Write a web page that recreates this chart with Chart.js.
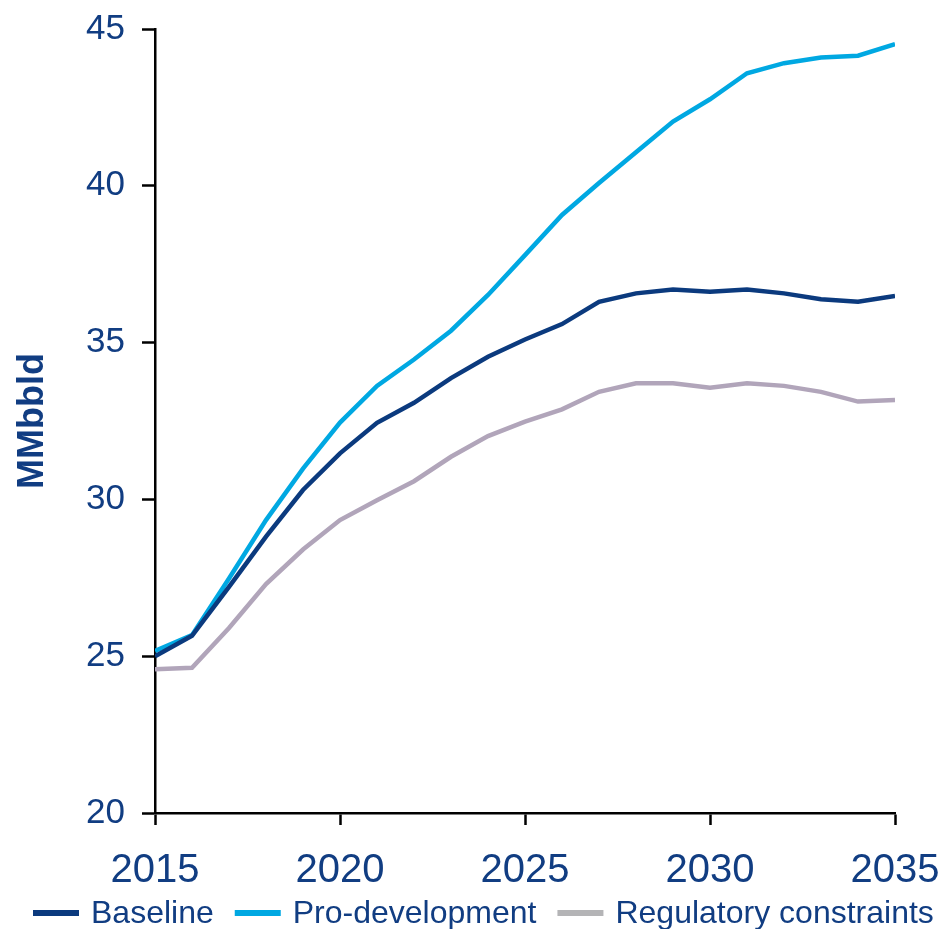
<!DOCTYPE html>
<html>
<head>
<meta charset="utf-8">
<script src="https://cdn.jsdelivr.net/npm/chart.js@4/dist/chart.umd.min.js"></script>
<style>
    html, body { margin: 0; padding: 0; background: #fff; }
    #wrap { width: 941px; height: 929px; }
</style>
</head>
<body>
<div id="wrap"><canvas id="supply-chart"></canvas></div>
<script>
const years = [2015, 2016, 2017, 2018, 2019, 2020, 2021, 2022, 2023, 2024, 2025,
               2026, 2027, 2028, 2029, 2030, 2031, 2032, 2033, 2034, 2035];

const baseline = [25.0, 25.65, 27.21, 28.81, 30.3, 31.47, 32.44, 33.08, 33.87, 34.55, 35.1,
                  35.59, 36.3, 36.57, 36.69, 36.62, 36.69, 36.57, 36.38, 36.3, 36.49];
const proDevelopment = [25.17, 25.67, 27.48, 29.34, 30.98, 32.45, 33.62, 34.46, 35.38, 36.52, 37.79,
                        39.07, 40.09, 41.07, 42.05, 42.76, 43.59, 43.91, 44.09, 44.15, 44.52];
const regulatory = [24.58, 24.63, 25.9, 27.3, 28.4, 29.34, 29.97, 30.58, 31.36, 32.02, 32.48,
                    32.87, 33.43, 33.7, 33.7, 33.56, 33.7, 33.62, 33.43, 33.12, 33.17];

const yTicks = [20, 25, 30, 35, 40, 45];
const xTicks = [2015, 2020, 2025, 2030, 2035];

const NAVY_TEXT = '#113d82';
const FONT = "'Liberation Sans', Arial, sans-serif";

function toPoints(values) {
    return years.map((yr, i) => ({ x: yr, y: values[i] }));
}

// legend drawn by hand: short thick bars under the x labels
const bottomLegend = {
    id: 'bottomLegend',
    afterDraw(chart) {
        const ctx = chart.ctx;
        ctx.save();
        ctx.font = '32px ' + FONT;
        ctx.textBaseline = 'middle';
        let x = 33;
        const y = 913;
        chart.data.datasets.forEach(ds => {
            ctx.fillStyle = ds.legendColor || ds.borderColor;
            ctx.fillRect(x, y - 3, 46, 6);
            x += 46 + 12;
            ctx.fillStyle = NAVY_TEXT;
            ctx.fillText(ds.label, x, y + 1);
            x += ctx.measureText(ds.label).width + 21;
        });
        ctx.restore();
    }
};

const data = {
    datasets: [
        {
            label: 'Baseline',
            data: toPoints(baseline),
            borderColor: '#0b3a7e',
            borderWidth: 4.5,
            pointRadius: 0,
            tension: 0
        },
        {
            label: 'Pro-development',
            data: toPoints(proDevelopment),
            borderColor: '#00a8e2',
            borderWidth: 4.5,
            pointRadius: 0,
            tension: 0
        },
        {
            label: 'Regulatory constraints',
            data: toPoints(regulatory),
            borderColor: '#b1a5ba',
            legendColor: '#b4b4b6',
            borderWidth: 4.5,
            pointRadius: 0,
            tension: 0
        }
    ]
};

const config = {
    type: 'line',
    data: data,
    options: {
        responsive: true,
        maintainAspectRatio: false,
        animation: false,
        layout: { padding: { top: 29, right: 46, bottom: 0, left: 0 } },
        plugins: {
            legend: { display: false },
            tooltip: { enabled: false }
        },
        scales: {
            x: {
                type: 'linear',
                min: 2015,
                max: 2035,
                afterBuildTicks: scale => { scale.ticks = xTicks.map(v => ({ value: v })); },
                afterFit: scale => {
                    scale.height = 116;
                    scale.paddingLeft = 0;
                    scale.paddingRight = 0;
                },
                border: { display: true, color: '#000', width: 2.5 },
                grid: {
                    drawOnChartArea: false,
                    drawTicks: true,
                    tickLength: 12,
                    tickWidth: 2.5,
                    tickColor: '#000'
                },
                ticks: {
                    color: NAVY_TEXT,
                    font: { family: FONT, size: 40 },
                    padding: 22,
                    maxRotation: 0,
                    callback: v => String(v)
                }
            },
            y: {
                min: 20,
                max: 45,
                afterBuildTicks: scale => { scale.ticks = yTicks.map(v => ({ value: v })); },
                afterFit: scale => {
                    scale.width = 155;
                    scale.paddingTop = 0;
                    scale.paddingBottom = 0;
                },
                border: { display: true, color: '#000', width: 2.5 },
                grid: {
                    drawOnChartArea: false,
                    drawTicks: true,
                    tickLength: 13,
                    tickWidth: 2.5,
                    tickColor: '#000'
                },
                ticks: {
                    color: NAVY_TEXT,
                    font: { family: FONT, size: 35 },
                    padding: 17
                },
                title: {
                    display: true,
                    text: 'MMbbld',
                    color: NAVY_TEXT,
                    font: { family: FONT, size: 36, weight: 'bold' },
                    padding: { top: 11, bottom: 0 }
                }
            }
        }
    },
    plugins: [bottomLegend]
};

addEventListener('DOMContentLoaded', () => {
    new Chart(document.getElementById('supply-chart'), config);
});
</script>
</body>
</html>
